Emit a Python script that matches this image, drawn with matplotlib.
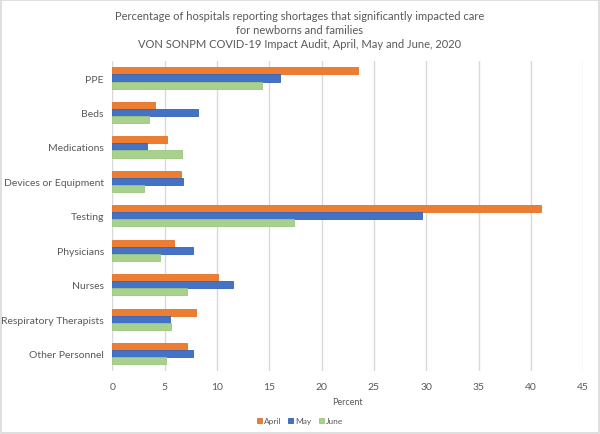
import matplotlib.pyplot as plt
import matplotlib.patches as patches
import numpy as np

plt.rcParams['font.family'] = ['Lato', 'DejaVu Sans']

categories = ['PPE', 'Beds', 'Medications', 'Devices or Equipment', 'Testing',
              'Physicians', 'Nurses', 'Respiratory Therapists', 'Other Personnel']
april = [23.5, 4.1, 5.2, 6.55, 41.0, 5.95, 10.15, 8.0, 7.15]
may = [16.0, 8.2, 3.3, 6.8, 29.6, 7.75, 11.55, 5.55, 7.75]
june = [14.35, 3.55, 6.7, 3.05, 17.4, 4.55, 7.15, 5.65, 5.15]

series = [('April', april, '#ED7D31', '#E4722A'),
          ('May', may, '#4472C4', '#3562B5'),
          ('June', june, '#A9D18E', '#9CC67F')]

fig = plt.figure(figsize=(6, 4.35), dpi=100)
ax = fig.add_axes([0.187, 0.145, 0.785, 0.713])

y = np.arange(len(categories))
h = 0.205
for i, (name, vals, col, edge) in enumerate(series):
    ax.barh(y + (i - 1) * h, vals, height=h, color=col, edgecolor=edge,
            linewidth=0.6, label=name, zorder=3)

ax.set_ylim(len(categories) - 0.5, -0.5)
ax.set_xlim(0, 45)
ax.set_xticks(range(0, 46, 5))
ax.set_yticks(y)
ax.set_yticklabels(categories)
ax.tick_params(axis='both', length=0, labelsize=7.5, colors='#595959')
ax.tick_params(axis='y', pad=6)
ax.tick_params(axis='x', pad=8)
ax.grid(axis='x', color='#D9D9D9', linewidth=1, zorder=0)
for s in ax.spines.values():
    s.set_visible(False)

ax.set_xlabel('Percent', fontsize=6.5, color='#595959', labelpad=4)

fig.text(0.5, 0.975, 'Percentage of hospitals reporting shortages that significantly impacted care\n'
         'for newborns and families\n'
         'VON SONPM COVID-19 Impact Audit, April, May and June, 2020',
         ha='center', va='top', fontsize=8, color='#595959', linespacing=1.35)

leg = fig.legend(loc='center', bbox_to_anchor=(0.5, 0.03), ncol=3, frameon=False,
                 fontsize=6, handlelength=0.6, handleheight=0.6, handletextpad=0.3,
                 columnspacing=0.8)
for t in leg.get_texts():
    t.set_color('#595959')

fig.patches.append(patches.Rectangle((0.002, 0.003), 0.996, 0.994, transform=fig.transFigure,
                                     fill=False, edgecolor='#D9D9D9', linewidth=1.2))

fig.savefig('out.png', dpi=100)
